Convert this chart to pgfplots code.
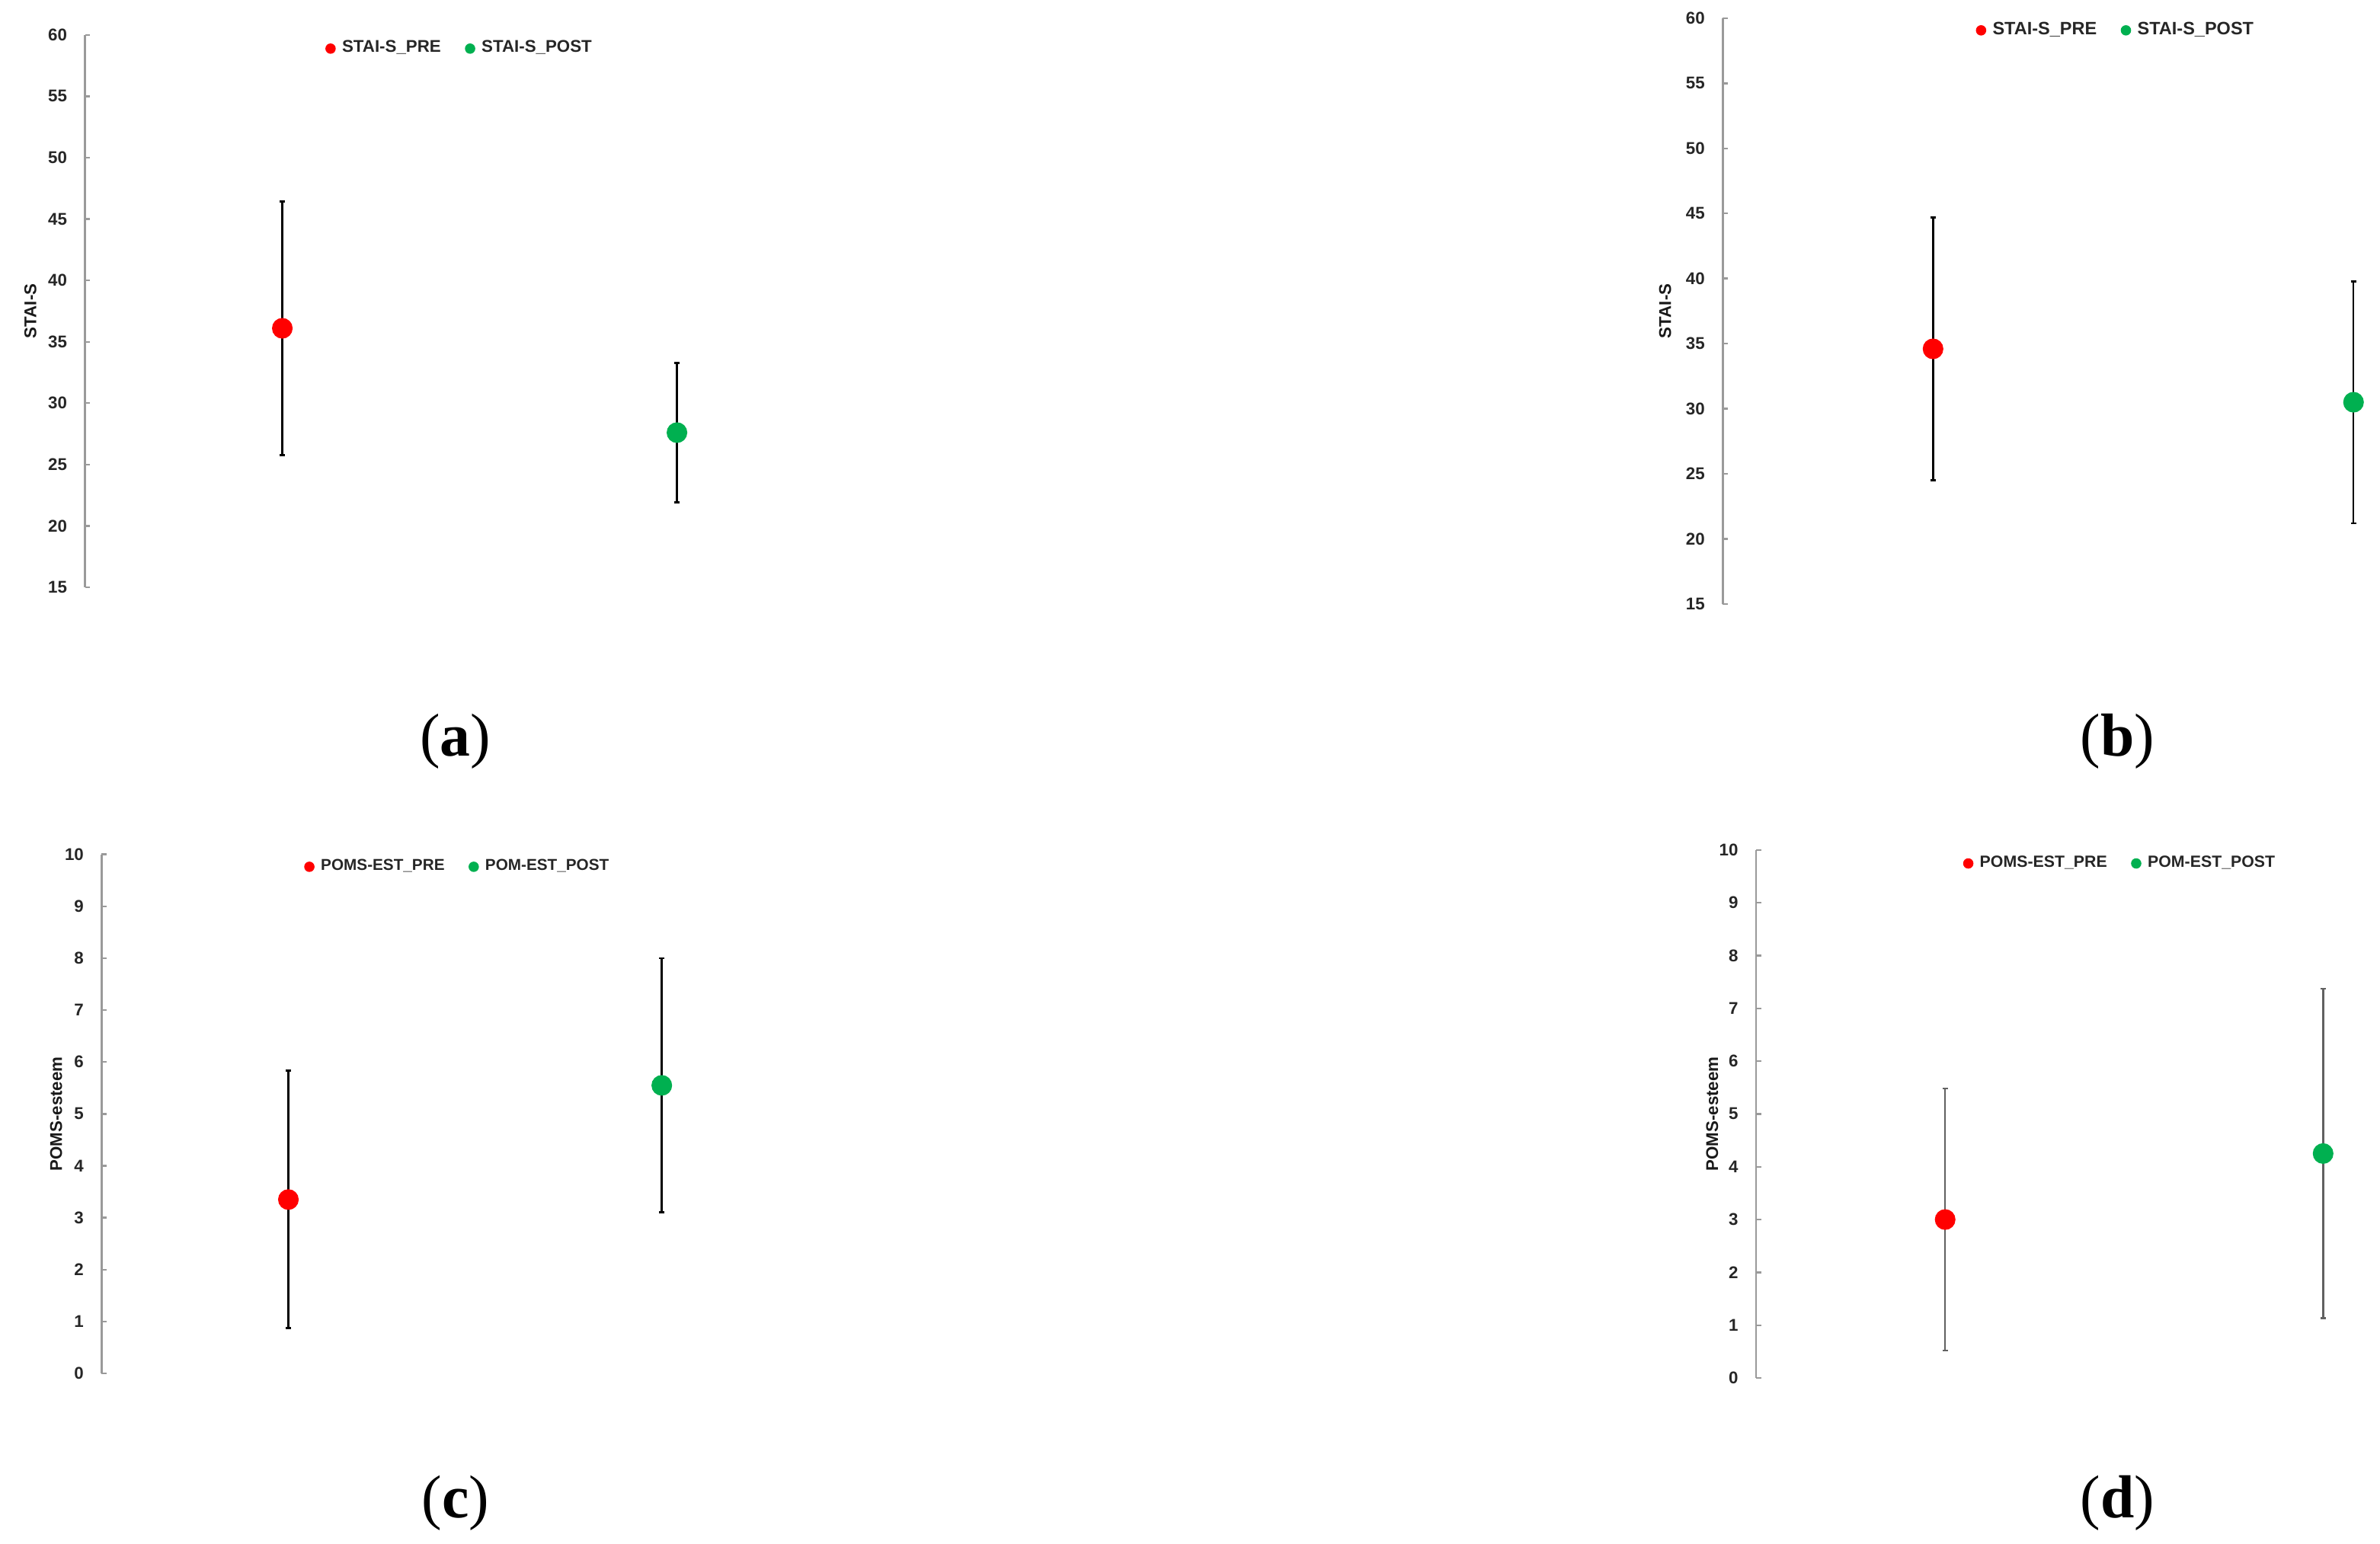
\documentclass[border=0pt]{standalone}
\usepackage{pgfplots}
\pgfplotsset{compat=1.18}
\usepackage{fontspec}
\setmainfont{Liberation Sans}
\newfontfamily\capfont{Liberation Serif}

\definecolor{prered}{HTML}{FF0000}
\definecolor{postgreen}{HTML}{00B050}
\definecolor{axisgray}{HTML}{9A9A9A}

\newcommand\smallbold{\fontsize{5.6}{6.2}\selectfont\bfseries}

\pgfplotsset{
  panel/.style={
    scale only axis, clip=false,
    axis x line=none, axis y line=left,
    y axis line style={axisgray, line width=0.6pt, -},
    xmin=0, xmax=3.1, xtick=\empty,
    tick align=inside, major tick length=1.6pt,
    ytick style={axisgray, line width=0.6pt},
    /pgf/number format/assume math mode=true,
    tick label style={font=\smallbold, text=black!85},
    yticklabel style={xshift=-2.4pt},
    legend style={draw=none, fill=none, inner sep=0pt,
      font=\smallbold, text=black!85,
      nodes={inner sep=0.5pt},
      legend columns=2,
      /tikz/every odd column/.append style={column sep=1.6pt},
      /tikz/every even column/.append style={column sep=7.4pt}},
    legend cell align=left,
  },
  legfont/.style={legend style={font=\fontsize{#1}{6.2}\selectfont\bfseries}},
  ylab/.style={every axis y label/.style={
    at={([xshift=#1]rel axis cs:0,0.5)}, anchor=center, rotate=90,
    font=\smallbold, text=black!90}},
  errs/.style={forget plot, only marks, mark=*, mark size=3.2pt,
    error bars/y dir=both, error bars/y explicit,
    error bars/error bar style={#1, line width=0.6pt},
    error bars/error mark options={#1, rotate=90, mark size=0.9pt, line width=0.7pt}},
  predot/.style={legend image code/.code={\fill[prered] (0pt,0pt) circle (1.5pt);}},
  postdot/.style={legend image code/.code={\fill[postgreen] (0pt,0pt) circle (1.5pt);}},
}

\begin{document}
\begin{tikzpicture}
\useasboundingbox (0pt,0pt) rectangle (784pt,508.5pt);

% (a) STAI-S, first group
\begin{axis}[panel, at={(28pt,315pt)}, anchor=south west,
  width=201.5pt, height=182pt, ymin=15, ymax=60, ytick={15,20,...,60},
  ylab=-18pt, ylabel={STAI-S},
  legend style={at={(axis cs:1.246,59.13)}, anchor=west, xshift=-2pt, yshift=-1pt}]
  \addplot[prered, errs=black] coordinates {(1,36.1) +- (0,10.35)};
  \addplot[postgreen, errs=black] coordinates {(3,27.6) +- (0,5.7)};
  \addlegendimage{predot}\addlegendentry{STAI-S\_PRE}
  \addlegendimage{postdot}\addlegendentry{STAI-S\_POST}
\end{axis}

% (b) STAI-S, second group
\begin{axis}[panel, at={(567.5pt,309.5pt)}, anchor=south west,
  width=214.7pt, height=193pt, ymin=15, ymax=60, ytick={15,20,...,60},
  ylab=-19pt, ylabel={STAI-S}, legfont=5.9,
  legend style={at={(axis cs:1.23,59.3)}, anchor=west, xshift=-2pt, yshift=-1pt}]
  \addplot[prered, errs=black] coordinates {(1,34.6) +- (0,10.1)};
  \addplot[postgreen, errs=black] coordinates {(3,30.5) +- (0,9.3)};
  \addlegendimage{predot}\addlegendentry{STAI-S\_PRE}
  \addlegendimage{postdot}\addlegendentry{STAI-S\_POST}
\end{axis}

% (c) POMS esteem, first group
\begin{axis}[panel, at={(33.5pt,56pt)}, anchor=south west,
  width=190.65pt, height=171pt, ymin=0, ymax=10, ytick={0,1,...,10},
  ylab=-15pt, ylabel={POMS-esteem}, legfont=5.2,
  legend style={at={(axis cs:1.114,9.82)}, anchor=west, xshift=-2pt, yshift=-1pt}]
  \addplot[prered, errs=black] coordinates {(1,3.35) +- (0,2.48)};
  \addplot[postgreen, errs=black] coordinates {(3,5.55) +- (0,2.45)};
  \addlegendimage{predot}\addlegendentry{POMS-EST\_PRE}
  \addlegendimage{postdot}\addlegendentry{POM-EST\_POST}
\end{axis}

% (d) POMS esteem, second group
\begin{axis}[panel, at={(578.5pt,54.5pt)}, anchor=south west,
  width=192.975pt, height=174pt, ymin=0, ymax=10, ytick={0,1,...,10},
  ylab=-14.5pt, ylabel={POMS-esteem}, legfont=5.35,
  legend style={at={(axis cs:1.124,9.8)}, anchor=west, xshift=-2pt, yshift=-1pt}]
  \addplot[prered, errs=black!62] coordinates {(1,3.0) +- (0,2.48)};
  \addplot[postgreen, errs=black!62] coordinates {(3,4.25) +- (0,3.12)};
  \addlegendimage{predot}\addlegendentry{POMS-EST\_PRE}
  \addlegendimage{postdot}\addlegendentry{POM-EST\_POST}
\end{axis}

% panel captions
\begin{scope}[every node/.style={font=\capfont\fontsize{20}{24}\selectfont, anchor=base}]
  \node at (150pt,259.5pt) {(\textbf{a})};
  \node at (697.5pt,259.5pt) {(\textbf{b})};
  \node at (150pt,8.5pt) {(\textbf{c})};
  \node at (697.5pt,8.5pt) {(\textbf{d})};
\end{scope}
\end{tikzpicture}
\end{document}
